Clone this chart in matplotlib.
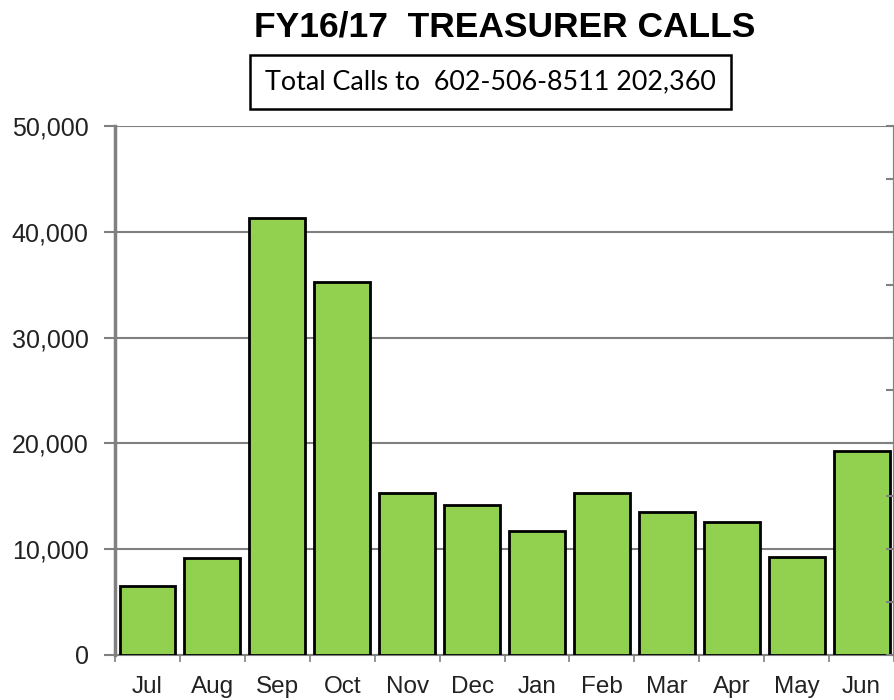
import numpy as np
import matplotlib
matplotlib.use("Agg")
import matplotlib.pyplot as plt
from matplotlib.ticker import FuncFormatter, MultipleLocator

# Monthly call counts
months = ["Jul", "Aug", "Sep", "Oct", "Nov", "Dec",
          "Jan", "Feb", "Mar", "Apr", "May", "Jun"]
calls = [6500, 9200, 41300, 35300, 15300, 14200,
         11700, 15300, 13500, 12600, 9300, 19300]
total_text = "Total Calls to  602-506-8511 202,360"
title_text = "FY16/17  TREASURER CALLS"
y_ticks = [0, 10000, 20000, 30000, 40000, 50000]

plt.rcParams['font.family'] = ['Liberation Sans', 'DejaVu Sans']

fig = plt.figure(figsize=(8.95, 7), dpi=100)
ax = fig.add_axes([0.1285, 0.0643, 0.8705, 0.7557])

x = np.arange(len(months))
ax.bar(x, calls, width=0.86, color="#92D050", edgecolor="black",
       linewidth=2, zorder=3)

ax.set_xlim(-0.5, len(months) - 0.5)
ax.set_ylim(0, 50000)
ax.set_yticks(y_ticks)
ax.yaxis.set_major_formatter(FuncFormatter(lambda v, p: f"{int(v):,}"))
ax.yaxis.grid(True, color="#808080", linewidth=1.5, zorder=0)
ax.tick_params(axis="y", direction="out", length=8, width=1.5,
               color="#808080", labelsize=18, pad=11,
               labelcolor="#222222")

ax.set_xticks(x)
ax.set_xticklabels(months)
ax.set_xticks(np.arange(-0.5, len(months), 1.0), minor=True)
ax.tick_params(axis="x", which="major", length=0, labelsize=17.5,
               pad=15, labelcolor="#222222")
ax.tick_params(axis="x", which="minor", direction="out", length=5,
               width=1.2, color="#808080")

ax.spines["top"].set_visible(False)
ax.spines["left"].set_color("#808080")
ax.spines["left"].set_linewidth(2.5)
ax.spines["bottom"].set_color("#808080")
ax.spines["bottom"].set_linewidth(1.5)
ax.spines["right"].set_color("#808080")
ax.spines["right"].set_linewidth(1.5)

# right-hand axis with inward ticks every 5,000
ax2 = ax.twinx()
ax2.set_ylim(0, 50000)
ax2.yaxis.set_major_locator(MultipleLocator(5000))
ax2.tick_params(axis="y", direction="in", length=6, width=1.5,
                color="#808080", labelright=False)
for side in ["top", "left", "bottom"]:
    ax2.spines[side].set_visible(False)
ax2.spines["right"].set_color("#808080")
ax2.spines["right"].set_linewidth(1.5)

fig.text(0.564, 0.962, title_text, ha="center", va="center",
         fontsize=25.5, fontweight="bold")
fig.text(0.548, 0.883, total_text, ha="center", va="center",
         fontsize=19.4, family=["Lato", "DejaVu Sans"],
         bbox=dict(boxstyle="square,pad=0.55", facecolor="white",
                   edgecolor="black", linewidth=1.8))

fig.savefig("out.png", dpi=100)
